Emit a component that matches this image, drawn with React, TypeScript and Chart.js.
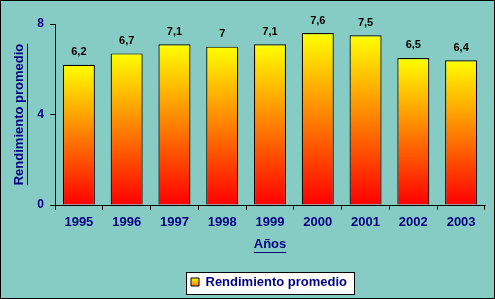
import React, { useEffect, useRef } from 'react';
import { Chart, registerables } from 'chart.js';

Chart.register(...registerables);

const categories = ['1995', '1996', '1997', '1998', '1999', '2000', '2001', '2002', '2003'];
const rendimiento = [6.2, 6.7, 7.1, 7, 7.1, 7.6, 7.5, 6.5, 6.4];
const yTickValues = [0, 4, 8];
const seriesLabel = 'Rendimiento promedio';
const xTitle = 'Años';
const yTitle = 'Rendimiento promedio';

const SANS = '"Liberation Sans", Arial, sans-serif';
const NAVY = '#000080';
const BG = '#87CBC5';

const fmt = (v: number) => String(v).replace('.', ',');

export default function App() {
  const ref = useRef<HTMLCanvasElement | null>(null);

  useEffect(() => {
    document.body.style.margin = '0';
    const canvas = ref.current;
    if (!canvas) return;

    const Y_TITLE_PAD = 11.5;
    const X_TITLE_PAD = 17;
    const LEG_PAD = 6;

    const setLegendFill = (chart: any) => {
      const lg = chart.legend;
      if (!lg || !lg.legendItems || !lg.legendItems[0]) return;
      const boxTop = lg.top + LEG_PAD + 2.5;
      const g = chart.ctx.createLinearGradient(0, boxTop, 0, boxTop + 8);
      g.addColorStop(0, '#FFFF00');
      g.addColorStop(1, '#FF8000');
      lg.legendItems[0].fillStyle = g;
      lg.legendItems[0].strokeStyle = '#000';
      lg.legendItems[0].lineWidth = 1;
    };

    const decorPlugin = {
      id: 'decor',
      beforeDraw(chart: any) {
        setLegendFill(chart);
        const c = chart.ctx;
        c.save();
        c.fillStyle = BG;
        c.fillRect(0, 0, chart.width, chart.height);
        c.strokeStyle = '#000';
        c.lineWidth = 1;
        c.strokeRect(0.5, 0.5, chart.width - 1, chart.height - 1);
        const hb = chart.legend && chart.legend.legendHitBoxes && chart.legend.legendHitBoxes[0];
        if (hb) {
          const l = Math.round(hb.left - 5) + 0.5;
          const t = Math.round(hb.top - 3.5) + 0.5;
          const r = Math.round(hb.left + hb.width + 6.5) + 0.5;
          const b = Math.round(hb.top + hb.height + 5.5) + 0.5;
          c.fillStyle = '#FFFFFF';
          c.fillRect(l, t, r - l, b - t);
          c.strokeStyle = '#000';
          c.strokeRect(l, t, r - l, b - t);
        }
        c.restore();
      },
      afterLayout(chart: any) {
        const lg = chart.legend;
        if (!lg) return;
        const w = lg.width;
        lg.left = 191 - LEG_PAD;
        lg.right = lg.left + w;
      },
      afterUpdate(chart: any) {
        setLegendFill(chart);
      },
      afterDatasetsDraw(chart: any) {
        const c = chart.ctx;
        const meta = chart.getDatasetMeta(0);
        c.save();
        c.font = 'bold 11px ' + SANS;
        c.fillStyle = '#000';
        c.textAlign = 'center';
        c.textBaseline = 'alphabetic';
        meta.data.forEach((el: any, i: number) => {
          c.fillText(fmt(rendimiento[i]), el.x, el.y - 9.5);
        });
        c.restore();
      },
      afterDraw(chart: any) {
        const c = chart.ctx;
        const xs = chart.scales.x;
        const ys = chart.scales.y;
        c.save();
        c.font = 'bold 13px ' + SANS;
        c.fillStyle = NAVY;
        const xw = c.measureText(xTitle).width;
        const xcx = (xs.left + xs.right) / 2;
        const xty = xs.bottom - (13 * 1.2) / 2 - X_TITLE_PAD;
        c.fillRect(xcx - xw / 2, Math.round(xty + 7), xw, 1);
        const yw = c.measureText(yTitle).width;
        const ycy = (ys.top + ys.bottom) / 2;
        const ytx = ys.left + (13 * 1.2) / 2 + Y_TITLE_PAD;
        c.fillRect(Math.round(ytx + 7.5), ycy - yw / 2, 1, yw);
        c.restore();
      },
    };

    const chart = new Chart(canvas, {
      type: 'bar',
      data: {
        labels: categories,
        datasets: [
          {
            label: seriesLabel,
            data: rendimiento,
            backgroundColor: (ctx: any) => {
              const ch = ctx.chart;
              if (ctx.type !== 'data' || !ch.chartArea || !ch.scales.y) return '#FFC000';
              const y = ch.scales.y;
              const top = y.getPixelForValue(ctx.parsed.y);
              const bottom = y.getPixelForValue(0);
              const g = ch.ctx.createLinearGradient(0, top, 0, bottom);
              g.addColorStop(0, '#FFFF00');
              g.addColorStop(1, '#FF0000');
              return g;
            },
            borderColor: '#000',
            borderWidth: 1.2,
            barPercentage: 0.67,
            categoryPercentage: 1,
          },
        ],
      },
      options: {
        responsive: false,
        animation: false,
        layout: { padding: { left: 0, right: 10, top: 24, bottom: 0.5 } },
        plugins: {
          tooltip: { enabled: false },
          legend: {
            position: 'bottom',
            align: 'start',
            labels: {
              boxWidth: 8,
              boxHeight: 8,
              padding: LEG_PAD,
              color: NAVY,
              font: { family: SANS, size: 13, weight: 'bold' },
            },
          },
        },
        scales: {
          x: {
            grid: { drawOnChartArea: false, drawTicks: true, tickLength: 5, color: '#000', offset: true },
            border: { display: true, color: '#000', width: 1 },
            ticks: { color: NAVY, padding: 5, font: { family: SANS, size: 13, weight: 'bold' } },
            title: {
              display: true,
              text: xTitle,
              color: NAVY,
              padding: { top: 0, bottom: X_TITLE_PAD },
              font: { family: SANS, size: 13, weight: 'bold' },
            },
            afterFit: (s: any) => {
              s.height = 64.5;
            },
          },
          y: {
            min: 0,
            max: 8,
            grid: { drawOnChartArea: false, drawTicks: true, tickLength: 5, color: '#000' },
            border: { display: true, color: '#000', width: 1 },
            ticks: { color: NAVY, padding: 6, font: { family: SANS, size: 12, weight: 'bold' } },
            afterBuildTicks: (s: any) => {
              s.ticks = yTickValues.map((v) => ({ value: v }));
            },
            title: {
              display: true,
              text: yTitle,
              color: NAVY,
              padding: { top: Y_TITLE_PAD, bottom: 0 },
              font: { family: SANS, size: 13, weight: 'bold' },
            },
            afterFit: (s: any) => {
              s.width = 55;
            },
          },
        },
      },
      plugins: [decorPlugin],
    } as any);

    return () => chart.destroy();
  }, []);

  return (
    <div style={{ width: 495, height: 299 }}>
      <canvas ref={ref} width={495} height={299} style={{ display: 'block' }} />
    </div>
  );
}
